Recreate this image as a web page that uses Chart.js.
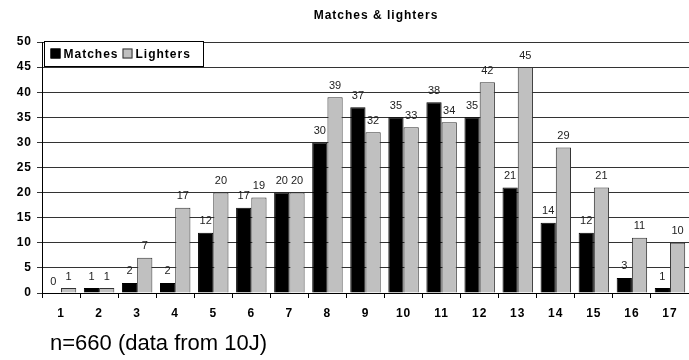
<!DOCTYPE html>
<html>
<head>
<meta charset="utf-8">
<script src="https://cdn.jsdelivr.net/npm/chart.js@4"></script>
<style>
  html, body { margin: 0; padding: 0; background: #fff; }
  #wrap { width: 689px; height: 360px; position: relative; }
</style>
</head>
<body>
<div id="wrap"><canvas id="chart" width="689" height="360"></canvas></div>
<script>
var categories = ['1', '2', '3', '4', '5', '6', '7', '8', '9', '10', '11', '12', '13', '14', '15', '16', '17'];
var matches = [0, 1, 2, 2, 12, 17, 20, 30, 37, 35, 38, 35, 21, 14, 12, 3, 1];
var lighters = [1, 1, 7, 17, 20, 19, 20, 39, 32, 33, 34, 42, 45, 29, 21, 11, 10];
var yTicks = [0, 5, 10, 15, 20, 25, 30, 35, 40, 45, 50];

var titleText = 'Matches & lighters';
var footerText = 'n=660 (data from 10J)';
var boldFont = 'bold 12px Arial, "Liberation Sans", sans-serif';

// Excel-style wide text spacing for the whole canvas
var spacingPlugin = {
  id: 'spacing',
  beforeDraw: function (chart) {
    chart.ctx.letterSpacing = '1px';
  }
};

// value labels above each bar
var valueLabels = {
  id: 'valueLabels',
  afterDatasetsDraw: function (chart) {
    var ctx = chart.ctx;
    ctx.save();
    ctx.letterSpacing = '0px';
    ctx.font = '11px Arial, "Liberation Sans", sans-serif';
    ctx.fillStyle = '#222';
    ctx.textAlign = 'center';
    ctx.textBaseline = 'bottom';
    chart.data.datasets.forEach(function (ds, i) {
      chart.getDatasetMeta(i).data.forEach(function (bar, j) {
        ctx.fillText(ds.data[j], bar.x, bar.y - 6);
      });
    });
    ctx.restore();
  }
};

// title, boxed legend inside the plot, footnote
var decorations = {
  id: 'decorations',
  afterDraw: function (chart) {
    var ctx = chart.ctx;
    var area = chart.chartArea;
    ctx.save();
    ctx.letterSpacing = '1px';
    ctx.font = boldFont;
    ctx.fillStyle = '#000';
    ctx.textAlign = 'center';
    ctx.textBaseline = 'middle';
    ctx.fillText(titleText, 376, 16);

    // legend box
    var lx = area.left + 2.5, ly = area.top - 0.5;
    ctx.fillStyle = '#fff';
    ctx.fillRect(lx, ly, 159, 25);
    ctx.strokeStyle = '#000';
    ctx.lineWidth = 1;
    ctx.strokeRect(lx, ly, 159, 25);
    ctx.textAlign = 'left';
    var x = lx + 6;
    chart.data.datasets.forEach(function (ds) {
      ctx.fillStyle = ds.backgroundColor;
      ctx.fillRect(x, ly + 7, 10, 10);
      ctx.strokeStyle = ds.borderColor;
      ctx.strokeRect(x + 0.5, ly + 7.5, 9, 9);
      ctx.fillStyle = '#000';
      ctx.fillText(ds.label, x + 13, ly + 13);
      x += 13 + ctx.measureText(ds.label).width + 4;
    });

    ctx.letterSpacing = '0px';
    ctx.font = '22px Arial, "Liberation Sans", sans-serif';
    ctx.fillText(footerText, 50, 344);
    ctx.restore();
  }
};

var ctx = document.getElementById('chart').getContext('2d');

var matchesChart = new Chart(ctx, {
  type: 'bar',
  data: {
    labels: categories,
    datasets: [{
      label: 'Matches',
      data: matches,
      backgroundColor: '#000000',
      borderColor: '#000000',
      borderWidth: 1,
      categoryPercentage: 0.8,
      barPercentage: 1.0
    }, {
      label: 'Lighters',
      data: lighters,
      backgroundColor: '#c0c0c0',
      borderColor: '#333333',
      borderWidth: 1,
      categoryPercentage: 0.8,
      barPercentage: 1.0
    }]
  },
  options: {
    responsive: false,
    animation: false,
    layout: { padding: { top: 42, right: 0, left: 0, bottom: 0 } },
    plugins: {
      legend: { display: false },
      title: { display: false },
      tooltip: { enabled: false }
    },
    scales: {
      x: {
        grid: {
          display: true,
          drawOnChartArea: false,
          drawTicks: true,
          tickLength: 5,
          color: '#000',
          offset: true
        },
        border: { display: true, color: '#000' },
        ticks: {
          color: '#000',
          font: { family: 'Arial, "Liberation Sans", sans-serif', size: 12, weight: 'bold' },
          padding: 8,
          maxRotation: 0
        },
        afterFit: function (scale) { scale.height = 67; }
      },
      y: {
        min: 0,
        max: 50,
        afterBuildTicks: function (scale) {
          scale.ticks = yTicks.map(function (v) { return { value: v }; });
        },
        grid: {
          color: '#333',
          tickLength: 5,
          drawTicks: true
        },
        border: { display: true, color: '#000' },
        ticks: {
          color: '#000',
          font: { family: 'Arial, "Liberation Sans", sans-serif', size: 12, weight: 'bold' },
          padding: 5
        },
        afterFit: function (scale) { scale.width = 42; }
      }
    }
  },
  plugins: [spacingPlugin, valueLabels, decorations]
});
</script>
</body>
</html>
